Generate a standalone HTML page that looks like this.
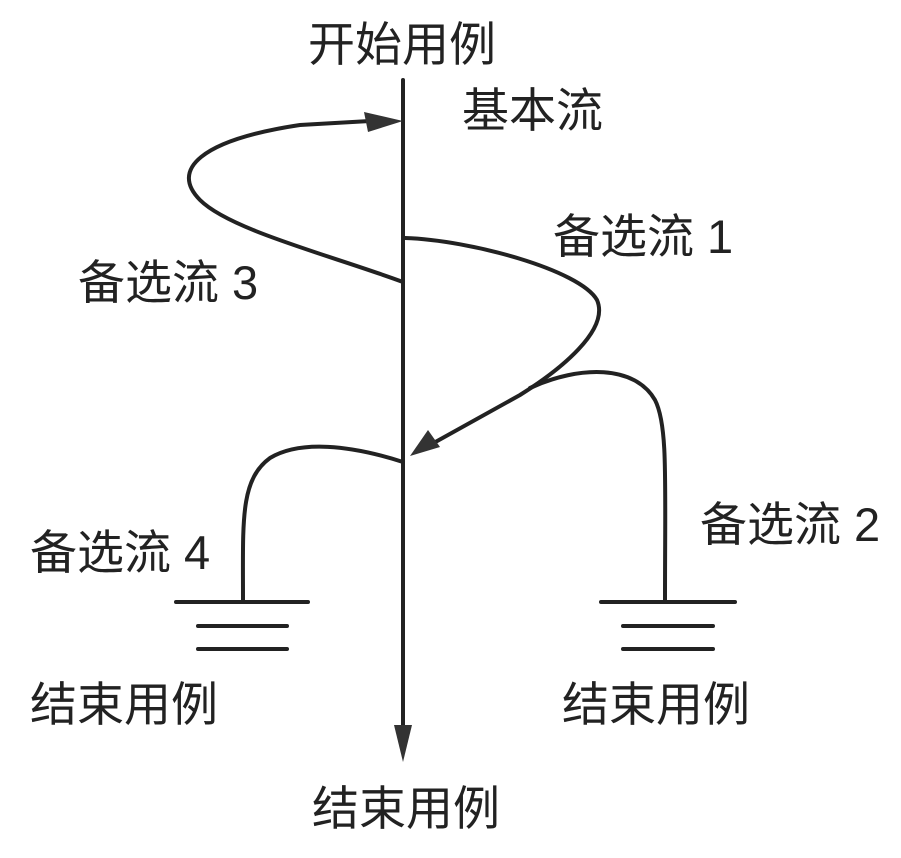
<!DOCTYPE html>
<html><head><meta charset="utf-8"><style>
html,body{margin:0;padding:0;background:#fff;}
svg{display:block}
text{font-family:"Liberation Sans","Noto Sans CJK SC",sans-serif;font-size:47px;fill:#222;}
</style></head><body>
<svg width="901" height="858" viewBox="0 0 901 858" xmlns="http://www.w3.org/2000/svg">
<g stroke="#222" stroke-width="4" fill="none" stroke-linecap="round">
<line x1="403" y1="80" x2="403" y2="735"/>
<path d="M403 282 C330 255 230 230 200 200 C170 170 200 140 300 125 L370 121"/>
<path d="M405 238 C470 240 580 270 597 300 C610 330 560 370 520 395 L430 445"/>
<path d="M530 388 C580 365 635 365 655 400 C668 425 665 480 665 600"/>
<path d="M403 462 C350 445 300 440 270 458 C240 480 243 520 243 600"/>
<line x1="176" y1="602" x2="308" y2="602"/>
<line x1="198" y1="626" x2="287" y2="626"/>
<line x1="198" y1="649" x2="287" y2="649"/>
<line x1="601" y1="602" x2="735" y2="602"/>
<line x1="623" y1="626" x2="713" y2="626"/>
<line x1="623" y1="649" x2="713" y2="649"/>
</g>
<g fill="#333">
<polygon points="403,121 364,112 368,132"/>
<polygon points="410,456 428,430 440,447"/>
<polygon points="403,762 394,725 412,725"/>
</g>
<text x="402" y="61" text-anchor="middle">开始用例</text>
<text x="462" y="127">基本流</text>
<text x="553" y="253">备选流 1</text>
<text x="78" y="299">备选流 3</text>
<text x="700" y="541">备选流 2</text>
<text x="30" y="569">备选流 4</text>
<text x="30" y="721">结束用例</text>
<text x="562" y="721">结束用例</text>
<text x="312" y="825">结束用例</text>
</svg>
</body></html>
